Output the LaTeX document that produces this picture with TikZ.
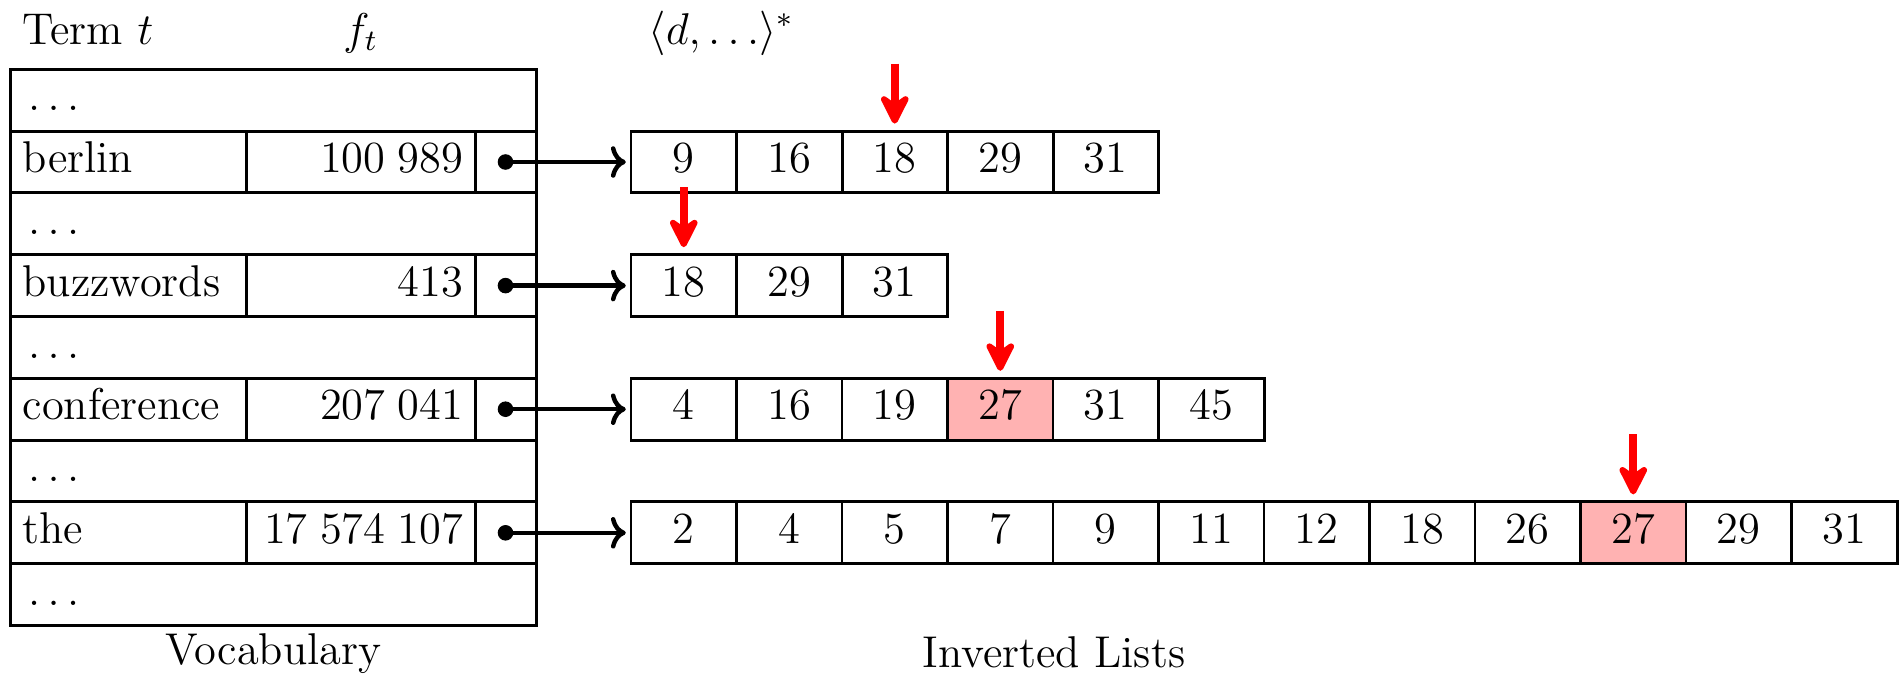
\documentclass[tikz,border=0pt,12pt]{standalone}
\usetikzlibrary{arrows.meta}
\newcommand{\pxl}{0.0094787cm}
\begin{document}
\begin{tikzpicture}[x=\pxl,y=-\pxl,
  cell/.style={draw, line width=0.8pt, inner sep=0pt, minimum height=0.5858cm},
  termcell/.style={cell, minimum width=2.2341cm, text width=2.0123cm, align=left},
  freqcell/.style={cell, minimum width=2.1640cm, text width=1.9422cm, align=right},
  ptrcell/.style={cell, minimum width=0.5782cm},
  dotscell/.style={cell, minimum width=4.9763cm, text width=4.7545cm, align=left},
  lcell/.style={cell, minimum width=1cm},
  ptr/.style={line width=1.2pt, -{To[length=4pt,width=8.5pt]}, shorten >=1pt},
  redarrow/.style={red, line width=2.1pt, -{Stealth[length=10pt,width=10pt,inset=3.5pt,round]}, shorten >=0.057cm},
  lbl/.style={inner sep=0pt, anchor=base}
]
\useasboundingbox (0,0) rectangle (1900,673);

% headers
\node[lbl, anchor=base west] (hterm) at (22,44) {Term $t$};
\node[lbl] (hfreq) at (360.85,44) {$f_t$};
\node[lbl, anchor=base west] (hlist) at (648,44) {$\langle d,\dots\rangle^*$};

% vocabulary table
\node[dotscell] (d0) at (273.5,100.2) {\kern1.5pt$\dots$\strut};
\node[termcell] (t1) at (128.85,162.0) {berlin\strut};
\node[freqcell] (f1) at (360.85,162.0) {100\;989\strut};
\node[ptrcell]  (p1) at (505.5,162.0) {};
\node[dotscell] (d2) at (273.5,223.8) {\kern1.5pt$\dots$\strut};
\node[termcell] (t3) at (128.85,285.6) {buzzwords\strut};
\node[freqcell] (f3) at (360.85,285.6) {413\strut};
\node[ptrcell]  (p3) at (505.5,285.6) {};
\node[dotscell] (d4) at (273.5,347.4) {\kern1.5pt$\dots$\strut};
\node[termcell] (t5) at (128.85,409.2) {conference\strut};
\node[freqcell] (f5) at (360.85,409.2) {207\;041\strut};
\node[ptrcell]  (p5) at (505.5,409.2) {};
\node[dotscell] (d6) at (273.5,471.0) {\kern1.5pt$\dots$\strut};
\node[termcell] (t7) at (128.85,532.8) {the\strut};
\node[freqcell] (f7) at (360.85,532.8) {17\;574\;107\strut};
\node[ptrcell]  (p7) at (505.5,532.8) {};
\node[dotscell] (d8) at (273.5,594.6) {\kern1.5pt$\dots$\strut};

% inverted lists
\foreach \v [count=\i] in {9,16,18,29,31}
  \node[lcell] (a\i) at ({683.75+105.5*(\i-1)},162.0) {\v\strut};
\foreach \v [count=\i] in {18,29,31}
  \node[lcell] (b\i) at ({683.75+105.5*(\i-1)},285.6) {\v\strut};
\foreach \v/\f [count=\i] in {4/white,16/white,19/white,27/red!30,31/white,45/white}
  \node[lcell, fill=\f] (c\i) at ({683.75+105.5*(\i-1)},409.2) {\v\strut};
\foreach \v/\f [count=\i] in {2/white,4/white,5/white,7/white,9/white,11/white,12/white,18/white,26/white,27/red!30,29/white,31/white}
  \node[lcell, fill=\f] (e\i) at ({683.75+105.5*(\i-1)},532.8) {\v\strut};

% pointers
\foreach \p/\q in {p1/a1,p3/b1,p5/c1,p7/e1}{
  \fill (\p.center) circle (2.1pt);
  \draw[ptr] (\p.center) -- (\q.west);
}

% red markers
\coordinate (r1) at ([yshift=0.6256cm]a3.north);
\coordinate (r2) at ([yshift=0.6256cm]b1.north);
\coordinate (r3) at ([yshift=0.6256cm]c4.north);
\coordinate (r4) at ([yshift=0.6256cm]e10.north);
\draw[redarrow] (r1) -- (a3.north);
\draw[redarrow] (r2) -- (b1.north);
\draw[redarrow] (r3) -- (c4.north);
\draw[redarrow] (r4) -- (e10.north);

% captions
\node[lbl] (voc) at (273.5,664) {Vocabulary};
\node[lbl] (inv) at (1054,667) {Inverted Lists};
\end{tikzpicture}
\end{document}
